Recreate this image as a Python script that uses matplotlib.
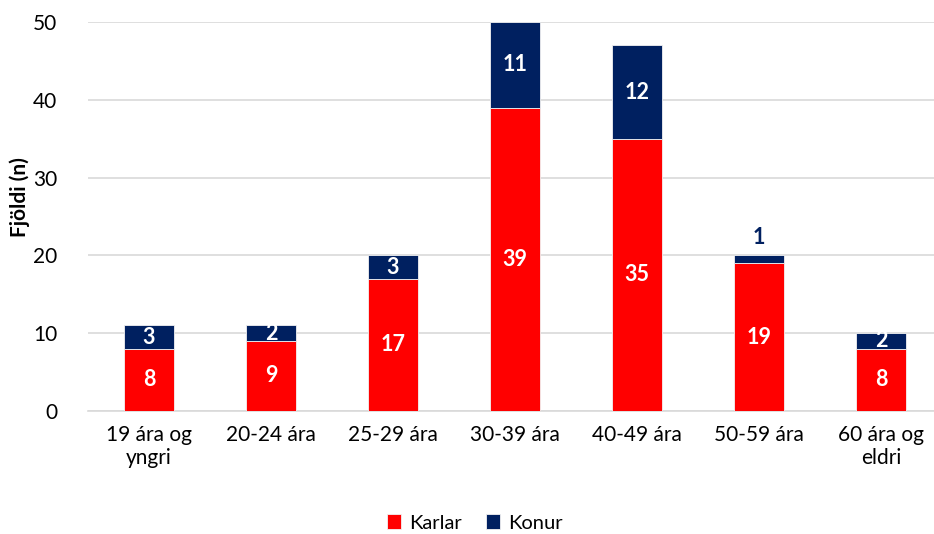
import matplotlib
matplotlib.use("Agg")
import matplotlib.pyplot as plt
import numpy as np

categories = ["19 ára og\nyngri", "20-24 ára", "25-29 ára", "30-39 ára",
              "40-49 ára", "50-59 ára", "60 ára og\neldri"]
karlar = [8, 9, 17, 39, 35, 19, 8]
konur = [3, 2, 3, 11, 12, 1, 2]

RED = "#FF0000"
NAVY = "#002060"
GRID = "#D9D9D9"

plt.rcParams["font.family"] = ["Lato", "DejaVu Sans"]

fig = plt.figure(figsize=(9.34, 5.34), dpi=100)
ax = fig.add_axes([88 / 934, 1 - 411 / 534, 1 - 88 / 934, (411 - 22) / 534])

x = np.arange(len(categories))
w = 0.41
b1 = ax.bar(x, karlar, w, color=RED, edgecolor="#F2F2F2", linewidth=0.6,
            label="Karlar", zorder=3)
b2 = ax.bar(x, konur, w, bottom=karlar, color=NAVY, edgecolor="#F2F2F2",
            linewidth=0.6, label="Konur", zorder=3)

for xi, k, f in zip(x, karlar, konur):
    ax.text(xi, k / 2, str(k), ha="center", va="center", color="white",
            fontsize=15.5, fontweight="bold", zorder=4)
    if f >= 2:
        ax.text(xi, k + f / 2, str(f), ha="center", va="center", color="white",
                fontsize=15.5, fontweight="bold", zorder=4)
    else:
        # too thin to hold the label, put it above the bar
        ax.annotate(str(f), (xi, k + f), xytext=(0, 5), textcoords="offset points",
                    ha="center", va="bottom", color=NAVY, fontsize=15.5,
                    fontweight="bold", zorder=4)

ax.set_xlim(-0.5, (934 - 149) / 122)
ax.set_ylim(0, 50)
ax.set_yticks(range(0, 51, 10))
ax.set_xticks(x)
ax.set_xticklabels(categories, fontsize=15, linespacing=1.2)
ax.tick_params(axis="y", labelsize=15, length=0, pad=22)
ax.tick_params(axis="x", length=0, pad=10)
ax.grid(axis="y", color=GRID, linewidth=1.2, zorder=0)
for s in ["top", "right", "left"]:
    ax.spines[s].set_visible(False)
ax.spines["bottom"].set_color(GRID)
ax.spines["bottom"].set_linewidth(1.2)
ax.set_ylabel("Fjöldi (n)", fontsize=15, fontweight="bold")
ax.yaxis.set_label_coords(-0.068, 0.55)

fig.legend(handles=[b1, b2], loc="center", bbox_to_anchor=(475 / 934, 1 - 523 / 534),
           ncol=2, frameon=False, fontsize=14.5, handlelength=0.7, handleheight=0.7,
           handletextpad=0.4, columnspacing=1.2)

fig.savefig("out.png", dpi=100)
